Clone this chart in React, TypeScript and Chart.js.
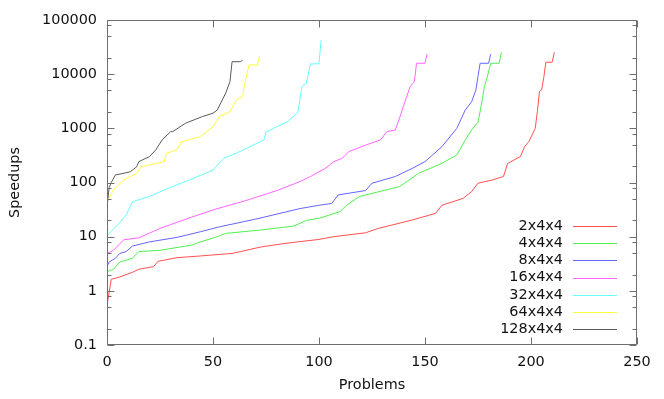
import React, { useEffect, useRef } from "react";
import { Chart, registerables } from "chart.js";

Chart.register(...registerables);

// ---- data ----
const seriesLabels = ["2x4x4", "4x4x4", "8x4x4", "16x4x4", "32x4x4", "64x4x4", "128x4x4"];
const seriesColors = [
  "rgb(255,80,80)",
  "rgb(80,240,80)",
  "rgb(100,100,255)",
  "rgb(255,100,255)",
  "rgb(100,255,255)",
  "rgb(255,255,60)",
  "rgb(90,90,90)",
];

const x2 = [0, 2, 6, 12, 15, 22, 24, 33, 44, 59, 73, 84, 91, 100, 107, 122, 128, 144, 155, 158, 168, 172, 175, 182, 187, 189, 195, 197, 199, 202, 203, 204, 205, 206, 207, 210, 211];
const y2 = [0.54, 1.63, 1.8, 2.2, 2.5, 2.8, 3.5, 4.1, 4.4, 4.9, 6.5, 7.5, 8.1, 8.9, 10, 11.8, 14.2, 20.3, 27, 38, 51, 68, 97, 112, 129, 226, 300, 460, 570, 1000, 2040, 4800, 5100, 8500, 16600, 16600, 25300];

const x4 = [0, 3, 6, 12, 15, 25, 40, 44, 51, 56, 72, 88, 91, 94, 100, 110, 113, 119, 125, 138, 147, 158, 165, 169, 172, 175, 176, 177, 178, 179, 181, 185, 186];
const y4 = [2.25, 2.5, 3.4, 4.0, 5.3, 5.6, 7.0, 8.0, 9.7, 11.5, 13.2, 15.7, 17.6, 20, 21.8, 29, 38, 55, 63, 84, 148, 226, 322, 610, 930, 1300, 2040, 3400, 5900, 7850, 15900, 15900, 25300];

const x8 = [0, 1, 4, 6, 9, 12, 20, 33, 44, 53, 70, 91, 100, 106, 109, 122, 125, 136, 144, 150, 158, 165, 169, 172, 174, 175, 176, 180, 181];
const y8 = [2.8, 3.4, 4.0, 4.9, 5.3, 6.7, 8.0, 9.7, 12.3, 15.2, 21, 33, 38, 41, 59, 71, 97, 129, 182, 243, 460, 1000, 2180, 3100, 5100, 9100, 15900, 15900, 23400];

const x16 = [0, 3, 8, 15, 25, 40, 51, 66, 81, 91, 96, 100, 103, 107, 111, 114, 122, 129, 132, 136, 138, 140, 143, 145, 146, 150, 151];
const y16 = [4.9, 5.6, 8.8, 9.5, 14.2, 23, 32, 47, 73, 104, 129, 158, 182, 243, 280, 371, 490, 610, 870, 930, 1550, 2700, 5900, 7300, 15900, 15900, 23600];

const x32 = [0, 5, 9, 12, 17, 20, 27, 39, 50, 55, 61, 74, 75, 80, 85, 90, 92, 94, 96, 100, 101];
const y32 = [10.5, 16.4, 25, 44, 51, 55, 73, 112, 170, 280, 347, 610, 850, 1070, 1320, 1950, 5900, 6800, 15500, 15500, 43000];

const x64 = [0, 1, 3, 8, 14, 16, 27, 28, 33, 35, 44, 50, 53, 58, 61, 64, 65, 67, 71, 72];
const y64 = [48, 51, 73, 112, 148, 195, 243, 347, 400, 560, 705, 1070, 1650, 2040, 3340, 3860, 6800, 14800, 14800, 21800];

const x128 = [0, 1, 2, 4, 8, 11, 14, 15, 20, 23, 26, 30, 31, 37, 45, 50, 52, 56, 58, 59, 63, 64];
const y128 = [35, 80, 100, 138, 148, 158, 195, 243, 300, 400, 610, 870, 870, 1240, 1650, 1900, 2180, 4470, 7300, 17000, 17000, 18200];

const seriesX = [x2, x4, x8, x16, x32, x64, x128];
const seriesY = [y2, y4, y8, y16, y32, y64, y128];

const yTickValues = [0.1, 1, 10, 100, 1000, 10000, 100000];
const yTickLabels = ["0.1", "1", "10", "100", "1000", "10000", "100000"];
const yMinorFactors = [2, 5, 8];
const xTickValues = [0, 50, 100, 150, 200, 250];

const FONT = "DejaVu Sans";
const FONT_SIZE = 14.4;

const framePlugin = {
  id: "gnuFrame",
  afterDatasetsDraw(chart: any) {
    const { ctx, chartArea } = chart;
    const { left, right, top, bottom } = chartArea;
    const xs = chart.scales.x;
    const ys = chart.scales.y;
    ctx.save();
    ctx.strokeStyle = "#6e6e6e";
    ctx.lineWidth = 1;
    ctx.beginPath();
    const L = Math.round(left) + 0.5;
    const R = Math.round(right) - 0.5;
    const T = Math.round(top) + 0.5;
    const B = Math.round(bottom) - 0.5;
    ctx.rect(L, T, R - L, B - T);
    const major = 7;
    const minor = 4;
    xTickValues.forEach((v) => {
      const px = Math.round(xs.getPixelForValue(v)) + 0.5;
      ctx.moveTo(px, B);
      ctx.lineTo(px, B - major);
      ctx.moveTo(px, T);
      ctx.lineTo(px, T + major);
    });
    yTickValues.forEach((v, i) => {
      const py = Math.round(ys.getPixelForValue(v)) + 0.5;
      ctx.moveTo(L, py);
      ctx.lineTo(L + major, py);
      ctx.moveTo(R, py);
      ctx.lineTo(R - major, py);
      if (i < yTickValues.length - 1) {
        yMinorFactors.forEach((f) => {
          const pm = Math.round(ys.getPixelForValue(v * f)) + 0.5;
          ctx.moveTo(L, pm);
          ctx.lineTo(L + minor, pm);
          ctx.moveTo(R, pm);
          ctx.lineTo(R - minor, pm);
        });
      }
    });
    ctx.stroke();
    ctx.restore();
  },
  afterDraw(chart: any) {
    const { ctx, chartArea } = chart;
    const { right, bottom } = chartArea;
    ctx.save();
    ctx.font = `${FONT_SIZE}px "${FONT}"`;
    ctx.textAlign = "right";
    ctx.textBaseline = "middle";
    chart.data.datasets.forEach((ds: any, i: number) => {
      const y = bottom - 119 + i * 17.2;
      ctx.fillStyle = "#111";
      ctx.fillText(ds.label, right - 74, y);
      ctx.strokeStyle = ds.borderColor;
      ctx.lineWidth = 1.2;
      ctx.beginPath();
      ctx.moveTo(right - 64, Math.round(y) + 0.5);
      ctx.lineTo(right - 20, Math.round(y) + 0.5);
      ctx.stroke();
    });
    ctx.restore();
  },
};

export default function App() {
  const ref = useRef<HTMLCanvasElement>(null);
  useEffect(() => {
    if (!ref.current) return;
    Chart.defaults.font.family = FONT;
    const datasets = seriesLabels.map((label, i) => ({
      label,
      data: seriesX[i].map((x, j) => ({ x, y: seriesY[i][j] })),
      borderColor: seriesColors[i],
      backgroundColor: seriesColors[i],
      borderWidth: 1,
      pointRadius: 0,
      tension: 0,
      fill: false,
    }));
    const chart = new Chart(ref.current, {
      type: "line",
      data: { datasets },
      plugins: [framePlugin],
      options: {
        animation: false,
        responsive: false,
        devicePixelRatio: 1,
        layout: { padding: { left: 0, top: 20, right: 27, bottom: 0 } },
        plugins: { legend: { display: false }, tooltip: { enabled: false } },
        scales: {
          x: {
            type: "linear",
            min: 0,
            max: 250,
            afterBuildTicks: (s: any) => {
              s.ticks = xTickValues.map((value) => ({ value }));
            },
            afterFit: (s: any) => {
              s.height = 54;
            },
            grid: { display: false, drawTicks: false },
            border: { display: false },
            ticks: {
              color: "#111",
              font: { family: FONT, size: FONT_SIZE },
              padding: 9,
              maxRotation: 0,
            },
            title: {
              display: true,
              text: "Problems",
              color: "#111",
              font: { family: FONT, size: FONT_SIZE },
              padding: { top: 0, bottom: 5 },
            },
          },
          y: {
            type: "logarithmic",
            min: 0.1,
            max: 100000,
            afterBuildTicks: (s: any) => {
              s.ticks = yTickValues.map((value) => ({ value }));
            },
            afterFit: (s: any) => {
              s.width = 107;
            },
            grid: { display: false, drawTicks: false },
            border: { display: false },
            ticks: {
              color: "#111",
              font: { family: FONT, size: FONT_SIZE },
              padding: 10,
              callback: (v: any) => {
                const idx = yTickValues.indexOf(Number(v));
                return idx >= 0 ? yTickLabels[idx] : "";
              },
            },
            title: {
              display: true,
              text: "Speedups",
              color: "#111",
              font: { family: FONT, size: FONT_SIZE },
              padding: { top: 7, bottom: 0 },
            },
          },
        },
      },
    });
    return () => chart.destroy();
  }, []);
  return (
    <div style={{ position: "fixed", left: 0, top: 0, width: 664, height: 399, background: "#fff" }}>
      <canvas ref={ref} width={664} height={399} style={{ display: "block", width: 664, height: 399 }} />
    </div>
  );
}
